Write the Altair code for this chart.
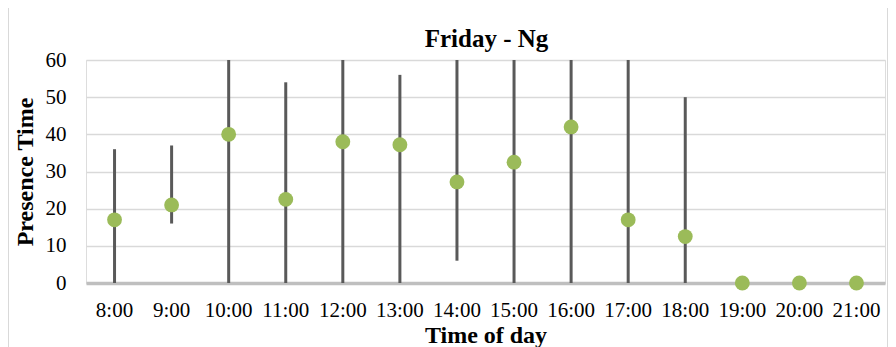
import altair as alt
import pandas as pd

hours = ["8:00", "9:00", "10:00", "11:00", "12:00", "13:00", "14:00",
         "15:00", "16:00", "17:00", "18:00", "19:00", "20:00", "21:00"]
mean = [17, 21, 40, 22.5, 38, 37.2, 27.2, 32.5, 42, 17, 12.5, 0, 0, 0]
low = [0, 16, 0, 0, 0, 0, 6, 0, 0, 0, 0, None, None, None]
high = [36, 37, 60, 54, 60, 56, 60, 60, 60, 60, 50, None, None, None]
y_ticks = [0, 10, 20, 30, 40, 50, 60]
title_text = "Friday - Ng"

df = pd.DataFrame({"hour": hours, "mean": mean, "low": low, "high": high})

FONT = "Liberation Serif"
W, H = 799, 223

x_axis = alt.Axis(
    title="Time of day", labelAngle=0, labelFont=FONT, labelFontSize=21,
    labelColor="#000000", titleFont=FONT, titleFontSize=24, titleFontWeight="bold",
    titleColor="#000000", ticks=False, domainColor="#bfbfbf", domainWidth=3.5,
    labelPadding=16, titlePadding=3, zindex=0, labelOverlap=False,
)
x_scale = alt.Scale(paddingInner=0, paddingOuter=0)
y_scale = alt.Scale(domain=[0, 60], nice=False, zero=True)
y_axis = alt.Axis(
    title="Presence Time", values=y_ticks, tickCount=7, labelFont=FONT,
    labelFontSize=21, labelColor="#000000", titleFont=FONT, titleFontSize=24,
    titleFontWeight="bold", titleColor="#000000", ticks=False, domain=False,
    gridColor="#d9d9d9", gridWidth=1.5, labelPadding=20, titlePadding=8,
    labelOverlap=False, labelBound=False, labelFlush=False,
)

base = alt.Chart(df)

border = base.mark_rect(
    fill=None, stroke="#d9d9d9", strokeWidth=1.5, clip=False
).encode(
    x=alt.value(-78), x2=alt.value(802), y=alt.value(-53), y2=alt.value(400)
)

title = alt.Chart(pd.DataFrame({"t": [title_text]})).mark_text(
    font=FONT, fontSize=25, fontWeight="bold", color="#000000",
    align="center", baseline="alphabetic",
).encode(x=alt.value(W / 2 + 1), y=alt.value(-13), text="t:N")

bars = base.mark_rule(color="#595959", strokeWidth=3).encode(
    x=alt.X("hour:N", sort=hours, scale=x_scale, axis=x_axis),
    y=alt.Y("low:Q", scale=y_scale, axis=y_axis),
    y2="high:Q",
)

points = base.mark_circle(color="#9bbb59", opacity=1, size=220).encode(
    x=alt.X("hour:N", sort=hours, scale=x_scale, axis=x_axis),
    y=alt.Y("mean:Q", scale=y_scale, axis=y_axis),
)

chart = alt.layer(bars, points, border, title).properties(
    width=W, height=H,
    autosize=alt.AutoSizeParams(type="none"),
    padding={"left": 78, "top": 52, "right": 3, "bottom": 75},
).configure_view(stroke=None).configure(background="#ffffff")

chart.save("out.html", embed_options={"renderer": "svg", "actions": False})
